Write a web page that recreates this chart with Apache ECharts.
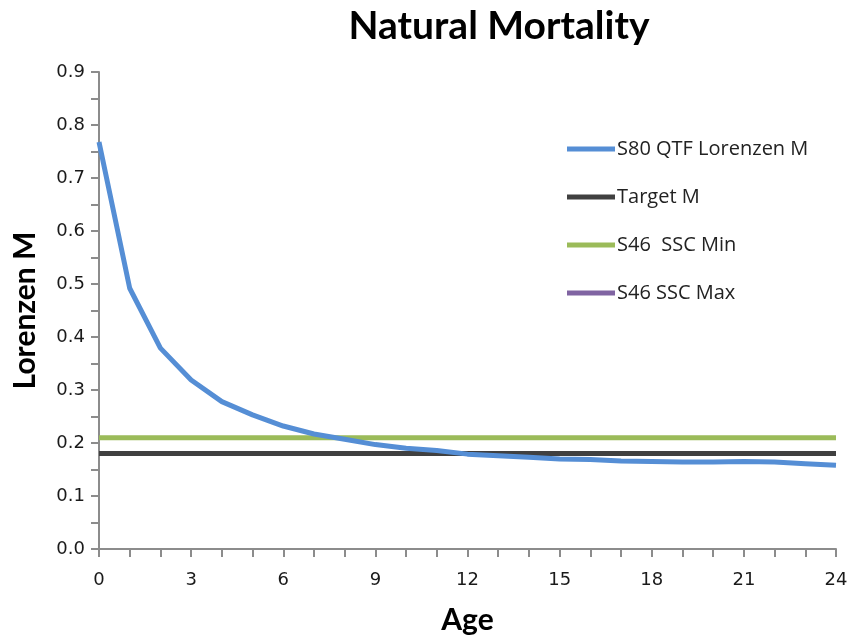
<!DOCTYPE html>
<html>
<head>
<meta charset="utf-8">
<script src="https://cdn.jsdelivr.net/npm/echarts@6/dist/echarts.min.js"></script>
<style>
  html, body { margin: 0; padding: 0; background: #fff; }
  #chart { width: 850px; height: 637px; }
</style>
</head>
<body>
<div id="chart"></div>
<script>
var ages = ['0','1','2','3','4','5','6','7','8','9','10','11','12','13','14','15','16','17','18','19','20','21','22','23','24'];
var lorenzenM = [0.768, 0.492, 0.379, 0.319, 0.278, 0.253, 0.232, 0.217, 0.207, 0.197, 0.190, 0.186, 0.179,
                 0.176, 0.173, 0.170, 0.169, 0.166, 0.165, 0.164, 0.164, 0.165, 0.164, 0.161, 0.158];
var targetM = 0.18;
var sscMin = 0.21;
var sscMax = []; // not visible in the plot

var myChart = echarts.init(document.getElementById('chart'));

function flat(v) {
    return ages.map(function () { return v; });
}

var axisGray = '#8c8c8c';

var option = {
    animation: false,
    title: {
        text: 'Natural Mortality',
        left: 494,
        textAlign: 'center',
        top: 2,
        textStyle: { fontFamily: 'Lato', fontSize: 39, fontWeight: 'bold', color: '#000' }
    },
    legend: {
        orient: 'vertical',
        left: 562,
        top: 134,
        itemGap: 28,
        itemWidth: 48,
        itemHeight: 5,
        icon: 'rect',
        textStyle: { fontFamily: 'Open Sans', fontSize: 20, color: '#222', padding: [0, 0, 0, -3] },
        data: ['S80 QTF Lorenzen M', 'Target M', 'S46  SSC Min', 'S46 SSC Max']
    },
    grid: { left: 99, right: 14, top: 72, bottom: 88, outerBoundsMode: 'none' },
    xAxis: {
        type: 'category',
        data: ages,
        boundaryGap: false,
        name: 'Age',
        nameLocation: 'middle',
        nameGap: 56,
        nameTextStyle: { fontFamily: 'Lato', fontSize: 30, fontWeight: 'bold', color: '#000' },
        axisLine: { lineStyle: { color: axisGray, width: 2 } },
        axisTick: { interval: 0, length: 8, lineStyle: { color: axisGray, width: 2 } },
        axisLabel: { interval: 2, fontFamily: 'DejaVu Sans', fontSize: 18, color: '#1a1a1a', margin: 22 },
        splitLine: { show: false }
    },
    yAxis: {
        type: 'value',
        min: 0,
        max: 0.9,
        interval: 0.1,
        name: 'Lorenzen M',
        nameLocation: 'middle',
        nameGap: 59,
        nameTextStyle: { fontFamily: 'Lato', fontSize: 30, fontWeight: 'bold', color: '#000' },
        axisLine: { show: true, lineStyle: { color: axisGray, width: 2 } },
        axisTick: { show: true, length: 8, lineStyle: { color: axisGray, width: 2 } },
        minorTick: { show: true, splitNumber: 2, length: 8, lineStyle: { color: axisGray, width: 2 } },
        axisLabel: {
            fontFamily: 'DejaVu Sans', fontSize: 18, color: '#1a1a1a', margin: 14,
            formatter: function (v) { return v.toFixed(1); }
        },
        splitLine: { show: false }
    },
    series: [
        {
            name: 'S80 QTF Lorenzen M',
            type: 'line',
            data: lorenzenM,
            showSymbol: false,
            color: '#558ed5',
            lineStyle: { width: 5, color: '#558ed5' },
            z: 4
        },
        {
            name: 'Target M',
            type: 'line',
            data: flat(targetM),
            showSymbol: false,
            color: '#404040',
            lineStyle: { width: 5, color: '#404040' },
            z: 3
        },
        {
            name: 'S46  SSC Min',
            type: 'line',
            data: flat(sscMin),
            showSymbol: false,
            color: '#9bbb59',
            lineStyle: { width: 5, color: '#9bbb59' },
            z: 3
        },
        {
            name: 'S46 SSC Max',
            type: 'line',
            data: sscMax,
            showSymbol: false,
            color: '#8064a2',
            lineStyle: { width: 5, color: '#8064a2' }
        }
    ]
};
myChart.setOption(option);
</script>
</body>
</html>
